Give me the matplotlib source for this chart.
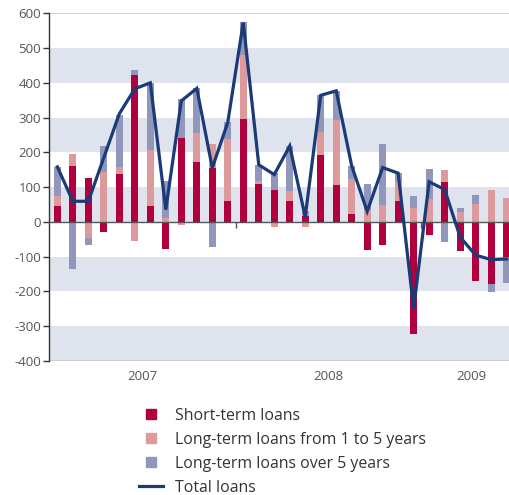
import numpy as np
import matplotlib
matplotlib.use("Agg")
import matplotlib.pyplot as plt
from matplotlib.lines import Line2D
from matplotlib.transforms import blended_transform_factory

plt.rcParams['font.family'] = ['Open Sans', 'DejaVu Sans']

months = [f"{y}-{m:02d}" for y in (2007, 2008, 2009) for m in range(1, 13)][:30]
short_term = [45, 160, 125, -30, 138, 422, 45, -78, 241, 171, 155, 59, 296, 108, 91, 59,
              16, 192, 106, 22, -80, -68, 60, -323, -39, 114, -84, -170, -179, -101]
long_1_5 = [28, 34, -46, 142, 19, -55, 161, 10, -10, 85, 70, 178, 183, 9, -15, 29,
            -15, 67, 188, 100, 33, 47, 55, 39, 65, 34, 27, 52, 91, 68]
long_over5 = [85, -136, -22, 75, 150, 14, 194, 107, 112, 128, -72, 49, 95, 47, 48, 130,
              15, 105, 83, 39, 75, 176, 25, 34, 86, -58, 12, 24, -23, -74]
total = [158, 59, 59, 185, 311, 383, 400, 35, 348, 384, 155, 286, 574, 164, 136, 218,
         14, 364, 377, 161, 30, 156, 140, -250, 115, 93, -44, -96, -109, -107]
years = ["2007", "2008", "2009"]
year_pos = [5.5, 17.5, 26.7]
year_bounds = [11.5, 23.5]
yticks = list(range(-400, 601, 100))

series = [("Short-term loans", short_term, "#b0003e"),
          ("Long-term loans from 1 to 5 years", long_1_5, "#dc9a9c"),
          ("Long-term loans over 5 years", long_over5, "#9097bb")]

fig = plt.figure(figsize=(5.10, 4.95), dpi=100)
ax = fig.add_axes([0.0967, 0.2713, 1 - 0.0967, 0.973 - 0.2713])

x = np.arange(len(months))
ax.set_xlim(-0.52, 29.22)
ax.set_ylim(-400, 600)

# background bands
for lo in (400, 200, 0, -200, -400):
    ax.axhspan(lo, lo + 100, color="#dee3ed", zorder=0, lw=0)
ax.axhline(600, color="#c8c8c8", lw=1.2, zorder=0.5)
ax.axhline(-400, color="#c8c8c8", lw=1.2, zorder=0.5)

pos_base = np.zeros(len(x))
neg_base = np.zeros(len(x))
handles = []
for name, vals, col in series:
    v = np.array(vals, dtype=float)
    bottom = np.where(v >= 0, pos_base, neg_base)
    ax.bar(x, v, bottom=bottom, width=0.44, color=col, zorder=2, lw=0)
    pos_base = pos_base + np.where(v >= 0, v, 0)
    neg_base = neg_base + np.where(v < 0, v, 0)
    handles.append(Line2D([], [], marker='s', ls='none', markersize=7.5,
                          markerfacecolor=col, markeredgecolor=col, label=name))

ax.plot(x, total, color="#1b3a78", lw=2.3, zorder=3, solid_joinstyle='miter')
handles.append(Line2D([], [], color="#1b3a78", lw=2.3, label="Total loans"))

# axes styling
for s in ("top", "right"):
    ax.spines[s].set_visible(False)
ax.spines["left"].set_color("#333333")
ax.spines["left"].set_linewidth(1.0)
ax.spines["bottom"].set_position(("data", 0))
ax.spines["bottom"].set_color("#555555")
ax.spines["bottom"].set_linewidth(1.0)
ax.spines["bottom"].set_zorder(2.5)
ax.set_xticks(year_bounds)
ax.set_xticklabels([])
ax.tick_params(axis="x", length=4, width=1, color="#555555", direction="out")
ax.set_yticks(yticks)
ax.set_yticklabels([str(t) for t in yticks])
ax.tick_params(axis="y", length=4, width=1, color="#333333", labelsize=9.5,
               labelcolor="#555555", pad=2)

tr = blended_transform_factory(ax.transData, ax.transAxes)
for yl, xp in zip(years, year_pos):
    ax.text(xp, -0.045, yl, transform=tr, ha="center", va="center",
            fontsize=9.5, color="#555555")

fig.legend(handles=handles, loc="upper left", bbox_to_anchor=(139 / 510, 1 - 408 / 495),
           frameon=False, fontsize=11.4, handlelength=1.5, handletextpad=0.75,
           labelspacing=0.5, borderpad=0, borderaxespad=0, labelcolor="#333333")

fig.savefig("out.png", dpi=100)
